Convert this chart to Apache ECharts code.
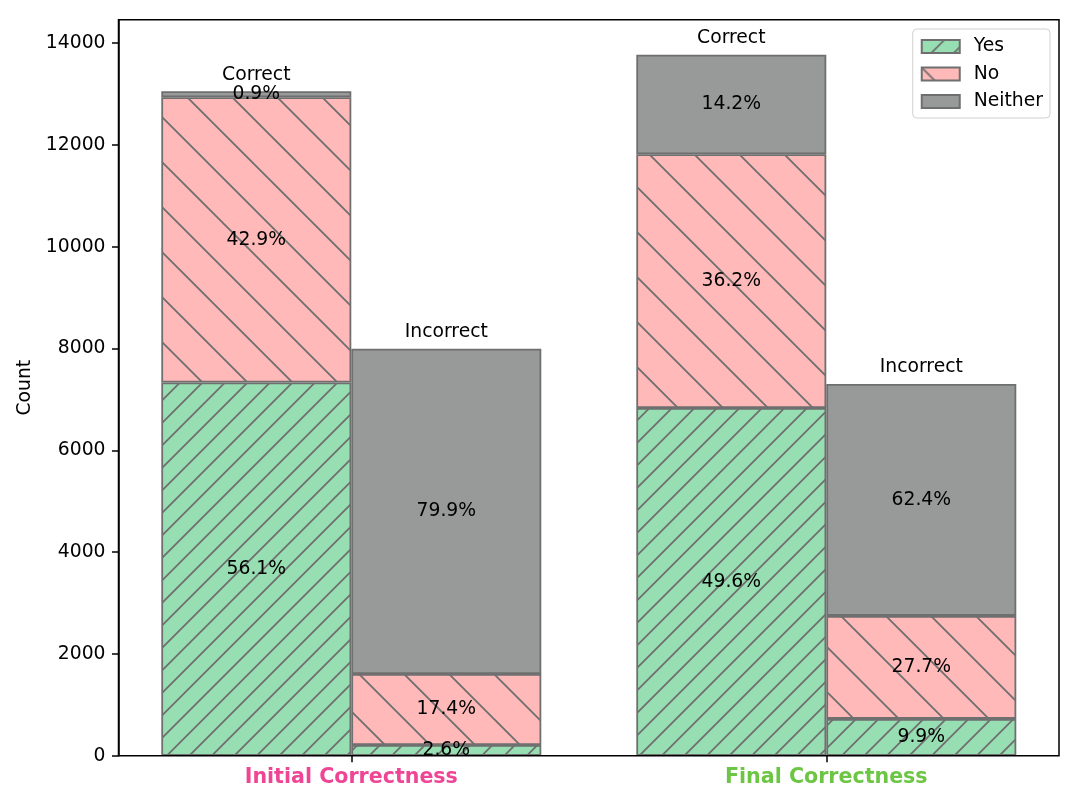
<!DOCTYPE html>
<html><head><meta charset="utf-8">
<script src="https://cdn.jsdelivr.net/npm/echarts@6/dist/echarts.min.js"></script>
<style>html,body{margin:0;padding:0;background:#fff}#c{width:1080px;height:810px}</style>
</head><body><div id="c"></div>
<script>
// ---- data ----
const groups = ['Initial Correctness', 'Final Correctness'];
const groupColors = ['#ef4595', '#6cc644'];
const outcomes = ['Correct', 'Incorrect'];
const responses = ['Yes', 'No', 'Neither'];
const correctYes = [7330, 6830];
const correctNo = [5605, 4985];
const correctNeither = [120, 1955];
const incorrectYes = [210, 723];
const incorrectNo = [1395, 2023];
const incorrectNeither = [6390, 4558];
const yTicks = [0, 2000, 4000, 6000, 8000, 10000, 12000, 14000];

// ---- style ----
const FONT = 'DejaVu Sans';
const EDGE = '#6f6f6f';
const GREEN = '#97dfb2', PINK = '#ffb9b9', GRAY = '#979a98';

function hatch(bg, dir, spacing) {
  const S = 45;
  const c = document.createElement('canvas');
  c.width = S; c.height = S;
  const ctx = c.getContext('2d');
  ctx.fillStyle = bg; ctx.fillRect(0, 0, S, S);
  ctx.strokeStyle = EDGE; ctx.lineWidth = 1.8;
  ctx.beginPath();
  if (dir === '/') {
    for (let k = 0; k <= 2 * S + 0.01; k += spacing) {
      ctx.moveTo(k + 2, -2); ctx.lineTo(k - S - 2, S + 2);
    }
  } else {
    for (let k = -S; k <= S + 0.01; k += spacing) {
      ctx.moveTo(k - 2, -2); ctx.lineTo(k + S + 2, S + 2);
    }
  }
  ctx.stroke();
  return { image: c, repeat: 'repeat' };
}
const fillYes = hatch(GREEN, '/', 22.5);
const fillNo = hatch(PINK, '\\', 45);

const totCorrect = correctYes.map((v, i) => v + correctNo[i] + correctNeither[i]);
const totIncorrect = incorrectYes.map((v, i) => v + incorrectNo[i] + incorrectNeither[i]);
const yMax = Math.max(...totCorrect, ...totIncorrect) * 1.05;

function seg(name, stack, data, fill, totals) {
  return {
    type: 'bar', name, stack, data, xAxisIndex: 1, yAxisIndex: 1,
    barWidth: 190, barGap: '0%',
    itemStyle: { color: fill, borderColor: EDGE, borderWidth: 1.8 },
    label: {
      show: true, position: 'inside', color: '#000', fontSize: 18.75, fontFamily: FONT,
      formatter: p => (p.value / totals[p.dataIndex] * 100).toFixed(1) + '%'
    },
    emphasis: { disabled: true }
  };
}
function topLabel(text, stack) {
  return {
    type: 'bar', name: text + ' label', stack, data: groups.map(() => 0),
    xAxisIndex: 1, yAxisIndex: 1, barWidth: 190, barGap: '0%',
    itemStyle: { color: 'transparent', borderWidth: 0 },
    label: { show: true, position: 'top', distance: 7, formatter: text, color: '#000', fontSize: 18.75, fontFamily: FONT },
    emphasis: { disabled: true }
  };
}

const series = [
  seg(responses[0], 'c', correctYes, fillYes, totCorrect),
  seg(responses[1], 'c', correctNo, fillNo, totCorrect),
  seg(responses[2], 'c', correctNeither, GRAY, totCorrect),
  topLabel(outcomes[0], 'c'),
  seg(responses[0], 'i', incorrectYes, fillYes, totIncorrect),
  seg(responses[1], 'i', incorrectNo, fillNo, totIncorrect),
  seg(responses[2], 'i', incorrectNeither, GRAY, totIncorrect),
  topLabel(outcomes[1], 'i')
];

const chart = echarts.init(document.getElementById('c'), null, { renderer: 'canvas' });
chart.setOption({
  animation: false,
  textStyle: { fontFamily: FONT },
  grid: [
    { left: 118.5, right: 21, top: 19.7, bottom: 54.3, show: true, borderColor: '#000', borderWidth: 1.5, z: 10 },
    { left: 113.8, right: 16.2, top: 19.7, bottom: 54.3 }
  ],
  legend: {
    data: responses, orient: 'vertical', right: 30, top: 29,
    icon: 'rect', itemWidth: 38, itemHeight: 13, itemGap: 8.5,
    padding: [8, 7, 7, 8], borderColor: '#d0d0d0', borderWidth: 1, borderRadius: 4,
    backgroundColor: '#fff',
    textStyle: { fontSize: 18.75, color: '#000', fontFamily: FONT, padding: [0, 0, 0, 9] },
    selectedMode: false
  },
  xAxis: [
    { type: 'value', gridIndex: 0, min: 0, max: 1, show: false },
    {
      type: 'category', gridIndex: 1,
      data: groups.map((g, i) => ({ value: g, textStyle: { color: groupColors[i] } })),
      axisLine: { show: false },
      axisTick: { show: true, alignWithLabel: true, length: 6.5, lineStyle: { color: '#000', width: 1.5 } },
      axisLabel: { fontSize: 20.6, fontWeight: 'bold', fontFamily: FONT, margin: 11 },
      splitLine: { show: false }
    }
  ],
  yAxis: [
    {
      type: 'value', gridIndex: 0, min: 0, max: yMax,
      name: 'Count', nameLocation: 'middle', nameGap: 66, nameRotate: 90,
      nameTextStyle: { fontSize: 18.75, color: '#000', fontFamily: FONT },
      axisLine: { show: true, lineStyle: { color: '#000', width: 1.5 } },
      axisTick: { show: true, length: 6.5, customValues: yTicks, lineStyle: { color: '#000', width: 1.5 } },
      axisLabel: { customValues: yTicks, formatter: v => String(v), fontSize: 18.75, color: '#000', fontFamily: FONT, margin: 13 },
      splitLine: { show: false }
    },
    { type: 'value', gridIndex: 1, min: 0, max: yMax, show: false }
  ],
  series
});
</script>
</body></html>
